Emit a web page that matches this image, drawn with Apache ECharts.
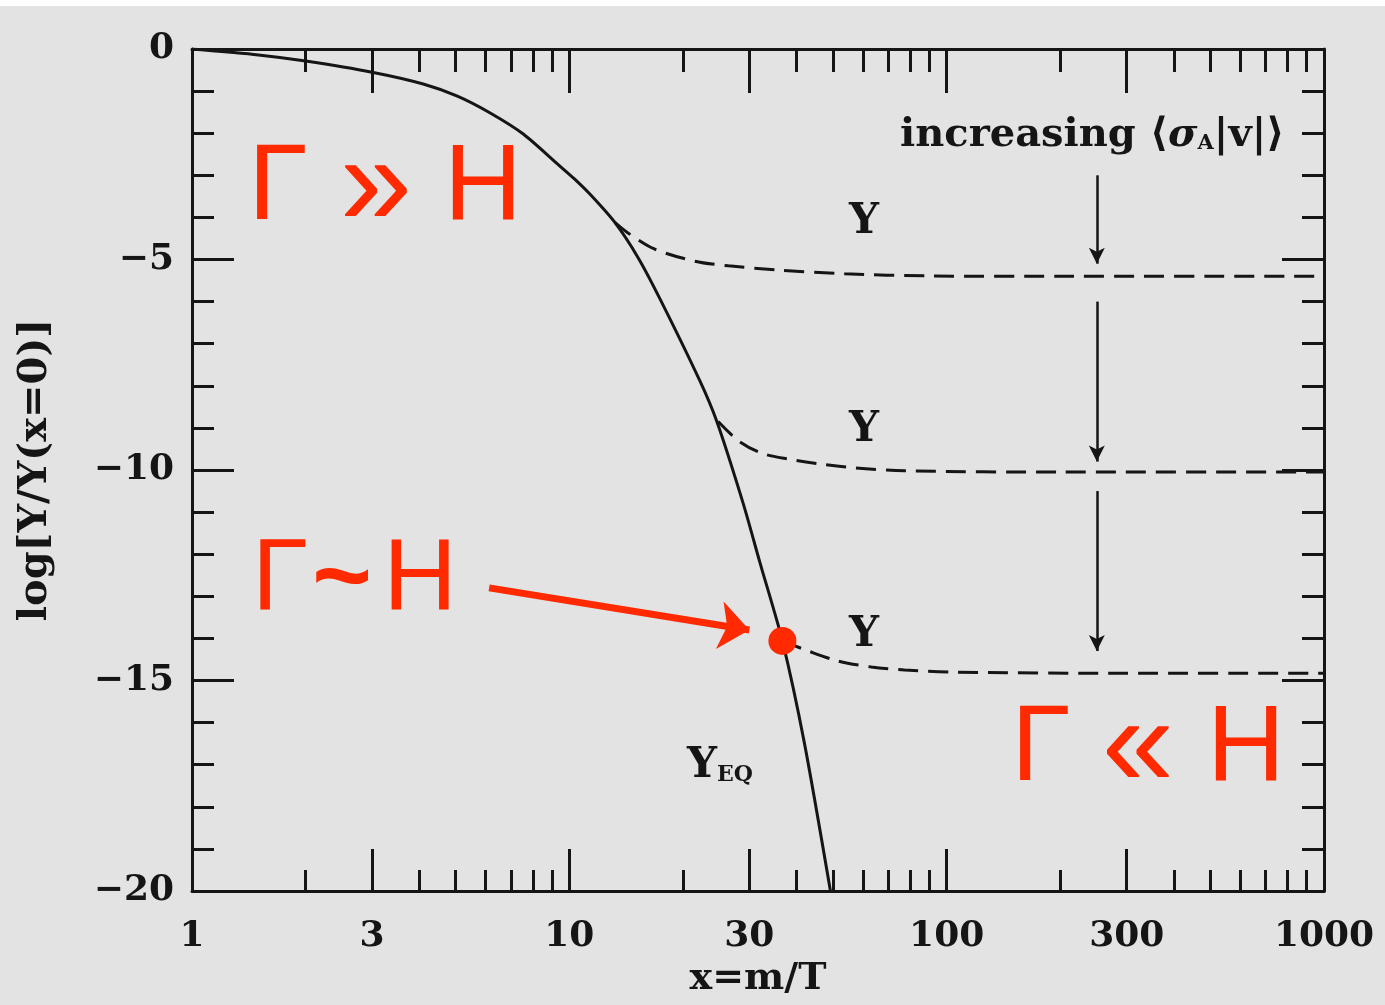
<!DOCTYPE html>
<html>
<head>
<meta charset="utf-8">
<script src="https://cdn.jsdelivr.net/npm/echarts@6/dist/echarts.min.js"></script>
<style>
html,body{margin:0;padding:0;background:#e3e3e3;}
#c{width:1385px;height:1005px;}
</style>
</head>
<body>
<div id="c"></div>
<script>
// ---- data ----
const xEq = [1, 1.5, 2, 3, 4.1, 5.05, 6.17, 7.55, 9.3, 10.3, 11.4, 13.2, 15.2, 17.4, 22.2, 24.6, 28.9, 32, 36.7, 42, 49.2];
const yEq = [0, -0.14, -0.285, -0.55, -0.83, -1.12, -1.52, -2.02, -2.73, -3.08, -3.47, -4.12, -4.95, -5.94, -7.89, -8.85, -10.8, -12.2, -14.06, -16.5, -20];

const xDash1 = [13.2, 14.3, 16.8, 21.5, 26.4, 35.8, 53.6, 89.6, 200, 1000];
const yDash1 = [-4.12, -4.37, -4.75, -5.04, -5.15, -5.25, -5.34, -5.39, -5.4, -5.4];

const xDash2 = [24.8, 28.1, 32.3, 38.1, 46.6, 57, 77.4, 200, 1000];
const yDash2 = [-8.85, -9.31, -9.6, -9.74, -9.86, -9.95, -10.02, -10.05, -10.05];

const xDash3 = [36.7, 43, 51.7, 63.2, 77.4, 105, 300, 1000];
const yDash3 = [-14.06, -14.3, -14.54, -14.68, -14.75, -14.8, -14.83, -14.83];

const freezeOutPoint = [36.7, -14.06];

const xMajorTicks = [1, 3, 10, 30, 100, 300, 1000];
const xMinorTicks = [2, 4, 5, 6, 7, 8, 9, 20, 40, 50, 60, 70, 80, 90, 200, 400, 500, 600, 700, 800, 900];
const yTickLabels = [0, -5, -10, -15, -20];

// black arrows (x, yStart, yEnd)
const arrowX = 250;
const arrowStarts = [-3.0, -6.0, -10.5];
const arrowEnds = [-5.1, -9.8, -14.3];

// red arrow start/end
const redArrowStart = [6.13, -12.8];
const redArrowEnd = [30.0, -13.8];

const pair = (xs, ys) => xs.map((x, i) => [x, ys[i]]);
const fmtMinus = v => (v < 0 ? '\u2212' + Math.abs(v) : String(v));

const chart = echarts.init(document.getElementById('c'));
const BLACK = '#151515';
const RED = '#ff2a00';
const serif = '"DejaVu Serif", serif';
const sans = '"Liberation Sans", Arial, sans-serif';

function xAxisDef(pos, ticks, len, showLabel, showLine) {
  return {
    type: 'log', logBase: 10, min: 1, max: 1000, position: pos,
    axisLine: { show: showLine, onZero: false, lineStyle: { color: BLACK, width: 3 } },
    axisTick: { show: true, inside: true, length: len, customValues: ticks, lineStyle: { color: BLACK, width: 3 } },
    axisLabel: showLabel ? {
      show: true, customValues: xMajorTicks, color: BLACK, fontFamily: serif, fontWeight: 'bold', fontSize: 36, margin: 28,
      formatter: v => String(v)
    } : { show: false },
    splitLine: { show: false },
    minorTick: { show: false }
  };
}

function yAxisDef(pos, showLabel) {
  return {
    type: 'value', min: -20, max: 0, interval: 5, position: pos,
    axisLine: { show: true, onZero: false, lineStyle: { color: BLACK, width: 3 } },
    axisTick: { show: true, inside: true, length: 42, lineStyle: { color: BLACK, width: 3 } },
    minorTick: { show: true, splitNumber: 5, length: 22, lineStyle: { color: BLACK, width: 3 } },
    axisLabel: showLabel ? {
      show: true, color: BLACK, fontFamily: serif, fontWeight: 'bold', fontSize: 36, margin: 18,
      formatter: v => fmtMinus(v)
    } : { show: false },
    splitLine: { show: false },
    name: showLabel ? 'log[Y/Y(x=0)]' : '',
    nameLocation: 'middle', nameGap: 136, nameRotate: 90,
    nameTextStyle: { color: BLACK, fontFamily: serif, fontWeight: 'bold', fontSize: 40 }
  };
}

const xAxes = [
  Object.assign(xAxisDef('bottom', xMajorTicks, 42, true, true), {
    name: 'x=m/T', nameLocation: 'middle', nameGap: 64,
    nameTextStyle: { color: BLACK, fontFamily: serif, fontWeight: 'bold', fontSize: 38 }
  }),
  xAxisDef('bottom', xMinorTicks, 21, false, false),
  xAxisDef('top', xMajorTicks, 44, false, true),
  xAxisDef('top', xMinorTicks, 23, false, false)
];

const dashStyle = { color: BLACK, width: 3, type: [20, 10] };

const option = {
  backgroundColor: '#e3e3e3',
  animation: false,
  grid: { left: 192, right: 61, top: 49, bottom: 114, containLabel: false, outerBoundsMode: 'none' },
  xAxis: xAxes,
  yAxis: [yAxisDef('left', true), yAxisDef('right', false)],
  series: [
    {
      type: 'line', name: 'Y_EQ', xAxisIndex: 0, yAxisIndex: 0,
      data: pair(xEq, yEq), showSymbol: false, smooth: 0.25,
      lineStyle: { color: BLACK, width: 3 }, z: 3
    },
    {
      type: 'line', name: 'Y1', data: pair(xDash1, yDash1), showSymbol: false, smooth: 0.3,
      lineStyle: dashStyle, z: 3
    },
    {
      type: 'line', name: 'Y2', data: pair(xDash2, yDash2), showSymbol: false, smooth: 0.3,
      lineStyle: dashStyle, z: 3
    },
    {
      type: 'line', name: 'Y3', data: pair(xDash3, yDash3), showSymbol: false, smooth: 0.3,
      lineStyle: dashStyle, z: 3,
      markLine: {
        silent: true, animation: false,
        symbol: ['none', 'arrow'], symbolSize: [12, 16],
        label: { show: false },
        lineStyle: { color: BLACK, width: 2.5, type: 'solid' },
        data: arrowStarts.map((s, i) => [{ coord: [arrowX, s] }, { coord: [arrowX, arrowEnds[i]] }])
      }
    },
    {
      type: 'line', name: 'redArrow', data: [], showSymbol: false,
      markLine: {
        silent: true, animation: false,
        symbol: ['none', 'arrow'], symbolSize: [36, 30],
        label: { show: false },
        lineStyle: { color: RED, width: 7, type: 'solid', opacity: 1 },
        data: [[{ coord: redArrowStart }, { coord: redArrowEnd }]]
      }
    },
    {
      type: 'scatter', name: 'freeze-out', data: [freezeOutPoint], symbolSize: 28,
      itemStyle: { color: RED, opacity: 1 }, z: 5
    }
  ],
  graphic: [
    { type: 'rect', shape: { x: 0, y: 0, width: 1385, height: 6 }, style: { fill: '#ffffff' }, z: -1 },
    // red annotations
    { type: 'text', x: 278, y: 189, style: { text: '\u0393', fill: RED, font: '108px ' + sans, align: 'center', verticalAlign: 'middle' } },
    { type: 'text', x: 376, y: 189, style: { text: '\u00bb', fill: RED, font: '130px ' + sans, align: 'center', verticalAlign: 'middle' } },
    { type: 'text', x: 483, y: 189, style: { text: 'H', fill: RED, font: '108px ' + sans, align: 'center', verticalAlign: 'middle' } },

    { type: 'text', x: 280, y: 582, style: { text: '\u0393', fill: RED, font: '102px ' + sans, align: 'center', verticalAlign: 'middle' } },
    { type: 'text', x: 342, y: 582, style: { text: '~', fill: RED, font: 'bold 102px ' + sans, align: 'center', verticalAlign: 'middle' } },
    { type: 'text', x: 420, y: 582, style: { text: 'H', fill: RED, font: '102px ' + sans, align: 'center', verticalAlign: 'middle' } },

    { type: 'text', x: 1041, y: 750, style: { text: '\u0393', fill: RED, font: '108px ' + sans, align: 'center', verticalAlign: 'middle' } },
    { type: 'text', x: 1138, y: 750, style: { text: '\u00ab', fill: RED, font: '130px ' + sans, align: 'center', verticalAlign: 'middle' } },
    { type: 'text', x: 1246, y: 750, style: { text: 'H', fill: RED, font: '108px ' + sans, align: 'center', verticalAlign: 'middle' } },

    // black labels
    {
      type: 'text', x: 900, y: 136,
      style: {
        text: '{a|increasing }{a|\u27e8}{s|\u03c3}{b|A}{a||v|\u27e9}',
        verticalAlign: 'middle', align: 'left',
        rich: {
          a: { fill: BLACK, fontFamily: serif, fontWeight: 'bold', fontSize: 40 },
          s: { fill: BLACK, fontFamily: serif, fontStyle: 'italic', fontWeight: 'bold', fontSize: 40 },
          b: { fill: BLACK, fontFamily: serif, fontWeight: 'bold', fontSize: 21, padding: [16, 0, 0, 0] }
        }
      }
    },
    { type: 'text', x: 864, y: 222, style: { text: 'Y', fill: BLACK, font: 'bold 42px ' + serif, align: 'center', verticalAlign: 'middle' } },
    { type: 'text', x: 864, y: 430, style: { text: 'Y', fill: BLACK, font: 'bold 42px ' + serif, align: 'center', verticalAlign: 'middle' } },
    { type: 'text', x: 864, y: 635, style: { text: 'Y', fill: BLACK, font: 'bold 42px ' + serif, align: 'center', verticalAlign: 'middle' } },
    {
      type: 'text', x: 687, y: 766,
      style: {
        text: '{y|Y}{e|EQ}', align: 'left', verticalAlign: 'middle',
        rich: {
          y: { fill: BLACK, fontFamily: serif, fontWeight: 'bold', fontSize: 42 },
          e: { fill: BLACK, fontFamily: serif, fontWeight: 'bold', fontSize: 22, padding: [18, 0, 0, 0] }
        }
      }
    }
  ]
};
chart.setOption(option);
</script>
</body>
</html>
